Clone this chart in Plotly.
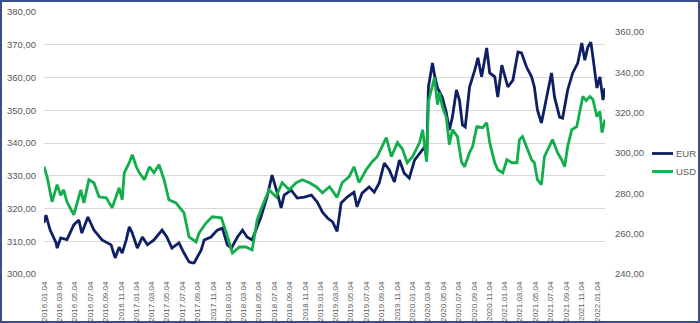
import plotly.graph_objects as go

# EUR series (left axis)
eur_dates = [
    "2016-01-04", "2016-01-12", "2016-01-28", "2016-02-21", "2016-02-25", "2016-03-10",
    "2016-04-04", "2016-05-01", "2016-05-21", "2016-06-02", "2016-06-26", "2016-07-20",
    "2016-08-21", "2016-09-26", "2016-10-12", "2016-10-28", "2016-11-09", "2016-11-25",
    "2016-12-07", "2016-12-19", "2017-01-08", "2017-01-28", "2017-02-17", "2017-03-15",
    "2017-04-16", "2017-05-05", "2017-05-25", "2017-06-22", "2017-07-12", "2017-08-01",
    "2017-08-13", "2017-08-21", "2017-09-18", "2017-09-30", "2017-10-27", "2017-11-21",
    "2017-12-11", "2017-12-31", "2018-01-16", "2018-02-09", "2018-03-01", "2018-03-19",
    "2018-04-08", "2018-04-24", "2018-05-13", "2018-06-06", "2018-06-26", "2018-07-16",
    "2018-08-01", "2018-08-13", "2018-09-10", "2018-10-04", "2018-11-01", "2018-11-29",
    "2018-12-22", "2019-01-12", "2019-02-01", "2019-02-21", "2019-03-11", "2019-03-27",
    "2019-04-20", "2019-05-17", "2019-05-29", "2019-06-18", "2019-07-16", "2019-08-05",
    "2019-08-25", "2019-09-14", "2019-10-04", "2019-10-24", "2019-11-13", "2019-12-02",
    "2019-12-22", "2020-01-12", "2020-02-01", "2020-02-21", "2020-02-29", "2020-03-07",
    "2020-03-23", "2020-03-31", "2020-04-12", "2020-05-01", "2020-05-17", "2020-05-29",
    "2020-06-10", "2020-06-26", "2020-07-08", "2020-07-20", "2020-07-31", "2020-08-17",
    "2020-09-07", "2020-09-19", "2020-10-04", "2020-10-24", "2020-11-05", "2020-11-25",
    "2020-12-07", "2020-12-23", "2021-01-16", "2021-02-05", "2021-02-25", "2021-03-11",
    "2021-03-31", "2021-04-20", "2021-05-01", "2021-05-13", "2021-05-29", "2021-06-18",
    "2021-07-08", "2021-07-20", "2021-08-09", "2021-08-21", "2021-09-10", "2021-09-30",
    "2021-10-20", "2021-11-05", "2021-11-17", "2021-11-29", "2021-12-11", "2021-12-19",
    "2022-01-04", "2022-01-16", "2022-01-28", "2022-02-05",
]
eur_values = [
    315.6, 318.0, 313.5, 309.5, 307.9, 311.0,
    310.5, 315.0, 316.5, 312.5, 317.4, 313.4,
    310.4, 308.9, 304.9, 308.2, 306.4, 310.4,
    314.4, 312.5, 307.9, 311.3, 308.9, 310.4,
    313.4, 311.3, 307.9, 309.5, 306.4, 303.7,
    303.4, 303.4, 307.3, 310.4, 311.3, 313.4,
    314.0, 308.9, 307.9, 311.3, 313.4, 311.3,
    310.4, 313.4, 317.4, 323.5, 330.2, 325.0,
    320.2, 324.1, 325.6, 323.2, 323.5, 324.1,
    322.0, 318.9, 317.1, 315.9, 313.0, 321.7,
    323.5, 325.0, 320.5, 324.7, 326.6, 325.0,
    327.8, 333.9, 331.8, 328.1, 334.8, 330.8,
    329.3, 334.8, 336.9, 338.8, 335.4, 357.1,
    364.4, 360.8, 356.8, 354.0, 349.2, 344.0,
    347.9, 356.2, 353.1, 345.5, 344.9, 357.1,
    362.3, 366.0, 360.2, 369.0, 361.4, 360.2,
    354.0, 363.8, 357.1, 359.2, 367.8, 367.5,
    363.2, 360.2, 357.1, 350.1, 346.1, 354.0,
    361.4, 354.0, 347.9, 347.6, 356.2, 361.4,
    364.4, 370.5, 365.3, 369.3, 370.8, 366.3,
    356.8, 360.2, 353.1, 356.8,
]

# USD series (right axis)
usd_dates = [
    "2016-01-04", "2016-01-16", "2016-02-05", "2016-02-25", "2016-03-10", "2016-03-22",
    "2016-04-04", "2016-05-01", "2016-05-29", "2016-06-10", "2016-06-30", "2016-07-20",
    "2016-08-09", "2016-09-07", "2016-09-30", "2016-10-28", "2016-11-09", "2016-11-17",
    "2016-12-07", "2016-12-19", "2017-01-04", "2017-01-16", "2017-02-05", "2017-02-25",
    "2017-03-15", "2017-04-04", "2017-04-24", "2017-05-13", "2017-06-10", "2017-07-12",
    "2017-08-01", "2017-08-29", "2017-09-10", "2017-10-08", "2017-11-01", "2017-12-07",
    "2017-12-27", "2018-01-20", "2018-02-17", "2018-03-15", "2018-04-08", "2018-04-28",
    "2018-05-17", "2018-06-14", "2018-07-12", "2018-08-05", "2018-09-02", "2018-09-30",
    "2018-10-24", "2018-11-21", "2018-12-18", "2019-01-12", "2019-02-09", "2019-03-11",
    "2019-03-31", "2019-04-28", "2019-05-17", "2019-06-06", "2019-07-04", "2019-07-28",
    "2019-08-17", "2019-09-06", "2019-09-22", "2019-10-12", "2019-11-05", "2019-11-25",
    "2019-12-14", "2020-01-04", "2020-02-01", "2020-02-13", "2020-02-29", "2020-03-07",
    "2020-03-31", "2020-04-12", "2020-04-20", "2020-05-01", "2020-05-17", "2020-05-29",
    "2020-06-10", "2020-06-30", "2020-07-16", "2020-07-28", "2020-08-17", "2020-08-29",
    "2020-09-15", "2020-10-08", "2020-10-24", "2020-11-05", "2020-11-25", "2020-12-07",
    "2020-12-27", "2021-01-12", "2021-02-01", "2021-02-21", "2021-03-03", "2021-03-15",
    "2021-03-31", "2021-04-20", "2021-05-01", "2021-05-13", "2021-05-29", "2021-06-10",
    "2021-07-12", "2021-08-01", "2021-08-17", "2021-08-29", "2021-09-10", "2021-09-26",
    "2021-10-16", "2021-10-28", "2021-11-09", "2021-11-22", "2021-12-07", "2021-12-19",
    "2022-01-04", "2022-01-16", "2022-01-24", "2022-02-05",
]
usd_values = [
    293.2, 288.3, 275.8, 284.3, 279.0, 281.8,
    275.8, 269.4, 281.8, 275.3, 286.8, 285.3,
    278.3, 277.8, 272.8, 282.8, 276.8, 290.2,
    295.2, 299.2, 293.2, 290.2, 286.8, 293.2,
    290.2, 294.2, 286.8, 276.8, 275.3, 270.3,
    258.4, 255.9, 260.4, 265.4, 268.4, 267.9,
    260.4, 250.4, 253.4, 253.4, 251.9, 266.9,
    273.3, 281.8, 278.3, 285.3, 281.8, 285.3,
    286.8, 285.3, 283.3, 280.3, 283.3, 278.0,
    285.3, 288.3, 293.2, 285.3, 291.7, 295.7,
    298.2, 303.2, 307.7, 298.2, 305.2, 302.0,
    295.2, 298.2, 305.2, 311.6, 295.7, 325.6,
    337.5, 324.0, 330.0, 323.1, 317.6, 304.2,
    311.6, 308.2, 295.7, 293.2, 300.2, 303.2,
    313.1, 312.6, 315.1, 305.2, 295.2, 291.7,
    290.2, 296.7, 295.2, 295.2, 306.7, 308.2,
    303.2, 296.7, 295.2, 286.8, 284.3, 298.2,
    306.7, 300.2, 296.7, 293.2, 303.2, 311.6,
    313.1, 320.1, 328.1, 326.0, 328.1, 326.6,
    318.1, 320.6, 310.1, 316.6,
]

# Category tick labels, every second month
tick_labels = [
    "2016.01.04", "2016.03.04", "2016.05.04", "2016.07.04", "2016.09.04", "2016.11.04",
    "2017.01.04", "2017.03.04", "2017.05.04", "2017.07.04", "2017.09.04", "2017.11.04",
    "2018.01.04", "2018.03.04", "2018.05.04", "2018.07.04", "2018.09.04", "2018.11.04",
    "2019.01.04", "2019.03.04", "2019.05.04", "2019.07.04", "2019.09.04", "2019.11.04",
    "2020.01.04", "2020.03.04", "2020.05.04", "2020.07.04", "2020.09.04", "2020.11.04",
    "2021.01.04", "2021.03.04", "2021.05.04", "2021.07.04", "2021.09.04", "2021.11.04",
    "2022.01.04",
]
tick_vals = [t.replace(".", "-") for t in tick_labels]

W, H = 700, 323
ML, MR, MT, MB = 44, 95, 12, 49
TXT = "#595959"
FONT = "Liberation Sans"
EUR_COLOR = "#0E1F63"
USD_COLOR = "#11AE4B"

pw = W - ML - MR
ph = H - MT - MB


def px_x(px):
    return (px - ML) / pw


def px_y(py):
    return (MT + ph - py) / ph


fig = go.Figure()
fig.add_trace(go.Scatter(
    x=eur_dates, y=eur_values, name="EUR", mode="lines",
    line=dict(color=EUR_COLOR, width=2.8), yaxis="y",
))
fig.add_trace(go.Scatter(
    x=usd_dates, y=usd_values, name="USD", mode="lines",
    line=dict(color=USD_COLOR, width=2.8), yaxis="y2",
))

# Compact legend to the right of the secondary axis
shapes = [dict(
    type="rect", xref="paper", yref="paper",
    x0=px_x(1), x1=px_x(W - 1), y0=px_y(H - 1), y1=px_y(1),
    line=dict(color="#3A4E8C", width=2), fillcolor="rgba(0,0,0,0)",
    layer="above",
)]
annotations = []
for name, color, ly in [("EUR", EUR_COLOR, 153.5), ("USD", USD_COLOR, 171.5)]:
    shapes.append(dict(
        type="line", xref="paper", yref="paper",
        x0=px_x(652), x1=px_x(673), y0=px_y(ly), y1=px_y(ly),
        line=dict(color=color, width=2.8),
    ))
    annotations.append(dict(
        xref="paper", yref="paper", x=px_x(674), y=px_y(ly),
        xanchor="left", yanchor="middle", text=name, showarrow=False,
        font=dict(family=FONT, size=9.5, color=TXT),
    ))

fig.update_layout(
    width=W, height=H,
    margin=dict(l=ML, r=MR, t=MT, b=MB, pad=0, autoexpand=False),
    paper_bgcolor="white", plot_bgcolor="white",
    separators=", ",
    font=dict(family=FONT, size=9, color=TXT),
    showlegend=False,
    xaxis=dict(
        type="date",
        range=["2016-01-04", "2022-02-05"],
        tickmode="array", tickvals=tick_vals, ticktext=tick_labels,
        tickangle=-90, tickfont=dict(family=FONT, size=8, color=TXT),
        showgrid=False, zeroline=False, showline=False,
        ticks="", ticklabelstandoff=5,
    ),
    yaxis=dict(
        range=[300, 380], dtick=10, tick0=300, tickformat=".2f",
        showgrid=True, gridcolor="#D9D9D9", gridwidth=1,
        zeroline=False, showline=False, ticks="",
        tickfont=dict(family=FONT, size=9.5, color=TXT),
        ticklabelstandoff=7,
    ),
    yaxis2=dict(
        range=[240, 370], dtick=20, tick0=240, tickformat=".2f",
        overlaying="y", side="right", showgrid=False,
        zeroline=False, showline=False, ticks="",
        tickfont=dict(family=FONT, size=9.5, color=TXT),
        ticklabelstandoff=9,
    ),
    shapes=shapes,
    annotations=annotations,
)

fig.write_html("out.html")
